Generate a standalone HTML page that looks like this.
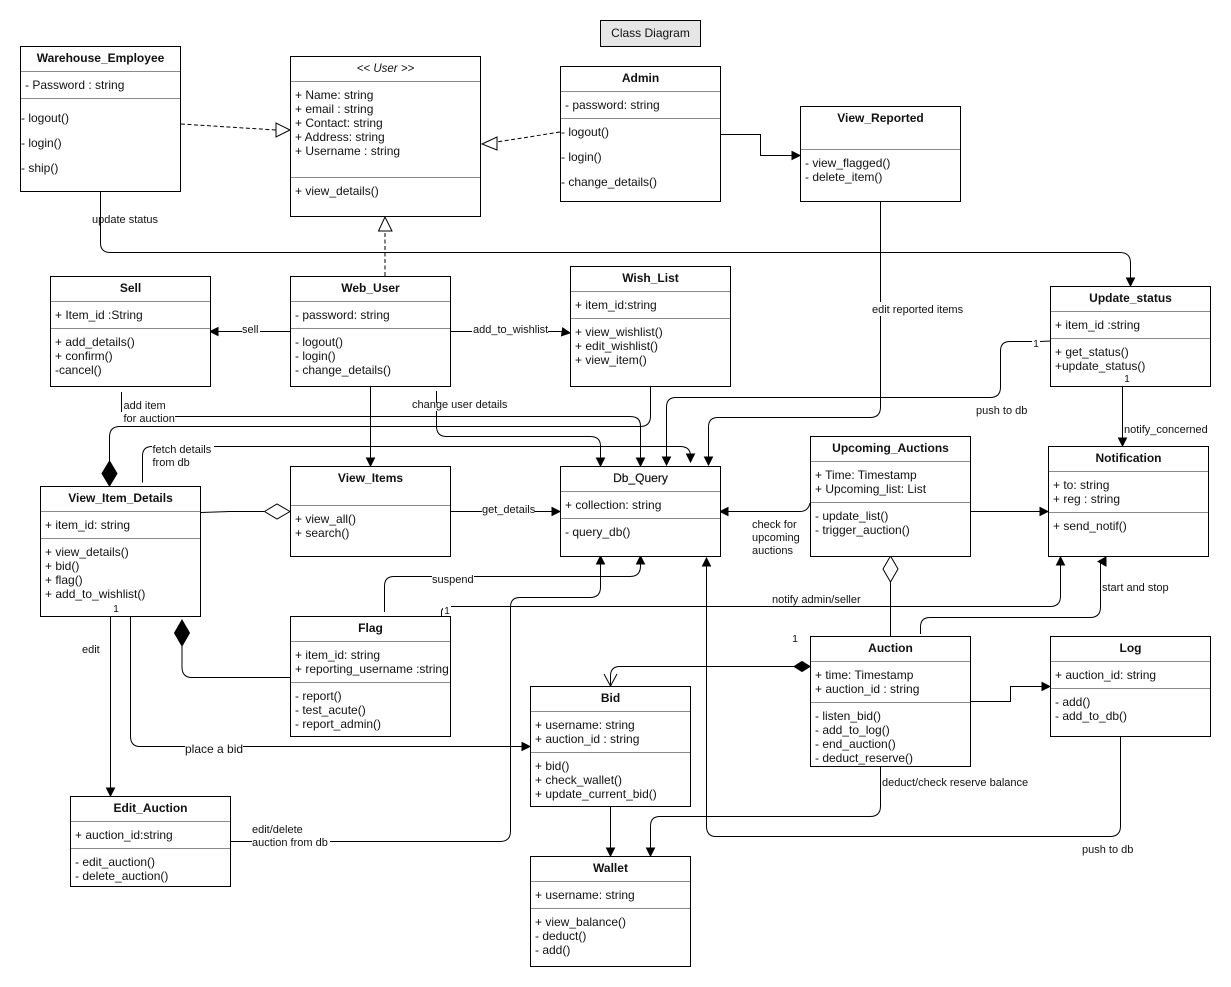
<!DOCTYPE html>
<html><head><meta charset="utf-8"><style>
html,body{margin:0;padding:0;background:#fff}
svg{display:block}
text{font-family:"Liberation Sans",Arial,sans-serif;font-size:12px;fill:#111}
.t{font-weight:bold;text-anchor:middle}
.l{font-size:11px}
.c{font-size:10.5px;text-anchor:middle}
.b{fill:#fff;stroke:#000;stroke-width:1}
.d{stroke:#8a8a8a;stroke-width:1;fill:none}
.e{fill:none;stroke:#000;stroke-width:1}
.m{fill:#fff;stroke:none}
</style></head><body>
<svg width="1231" height="987" viewBox="0 0 1231 987" xmlns="http://www.w3.org/2000/svg">
<defs>
<marker id="a" markerUnits="userSpaceOnUse" markerWidth="12" markerHeight="12" refX="10" refY="6" orient="auto"><path d="M2 2L10 6L2 10Z" fill="#000" stroke="#000" stroke-width="1"/></marker>
</defs>
<rect width="1231" height="987" fill="#fff"/>

<!-- connectors -->
<g class="e">
<path d="M181 124L276 130" stroke-dasharray="4 2.500"/>
<path d="M276 123V137L290 130Z" style="stroke:#000;fill:#fff"/>
<path d="M560 132L497 142" stroke-dasharray="4 2.500"/>
<path d="M497 137V150L482 144Z" style="fill:#fff"/>
<path d="M385 276L385 232" stroke-dasharray="4 2.500"/>
<path d="M378.500 231H392L385 217Z" style="fill:#fff"/>
<path d="M720 134.500H760.500V155.500H800" marker-end="url(#a)"/>
<path d="M100.500 191V243Q100.500 252.500 110.500 252.500H1120Q1130.500 252.500 1130.500 263V286" marker-end="url(#a)"/>
<path d="M290 331.500H210" marker-end="url(#a)"/>
<path d="M450 331.500H560L570 333" marker-end="url(#a)"/>
<path d="M370.500 386V466" marker-end="url(#a)"/>
<path d="M436.500 391V403"/>
<path d="M436.500 403V426Q436.500 436.500 446.500 436.500H590Q600.500 436.500 600.500 446V466" marker-end="url(#a)"/>
<path d="M121.500 392V412"/>
<path d="M175 416.500H630Q640.500 416.500 640.500 426V466" marker-end="url(#a)"/>
<path d="M650.500 386V416Q650.500 426.500 640 426.500H120Q109.500 426.500 109.500 437V462"/>
<path d="M109.500 461L117 473.500L109.500 486L102 473.500Z" style="fill:#000"/>
<path d="M142 482H142.500V456Q142.500 446.500 152 446.500"/>
<path d="M214 446.500H680Q690.500 446.500 690.500 456V462" marker-end="url(#a)"/>
<path d="M880.500 201V407Q880.500 417.500 870 417.500H718Q708.500 417.500 708.500 427V465" marker-end="url(#a)"/>
<path d="M1050 341L1040 341.500H1010Q1000.500 341.500 1000.500 351V387Q1000.500 397.500 990 397.500H676Q666.500 397.500 666.500 407V465" marker-end="url(#a)"/>
<path d="M810 503Q808 511.500 800 511.500H720" marker-end="url(#a)"/>
<path d="M970 511.500H1048" marker-end="url(#a)"/>
<path d="M1122.500 386V446" marker-end="url(#a)"/>
<path d="M450 511.500H560" marker-end="url(#a)"/>
<path d="M201 512.500L230 511.500H264"/>
<path d="M264.500 511.500L277 504L290 511.500L277 519Z" style="fill:#fff"/>
<path d="M290 677.500H192Q182 677.500 182 667V646"/>
<path d="M182 620L189.500 633L182 646L174.500 633Z" style="fill:#000"/>
<path d="M384.500 612V586Q384.500 576.500 394 576.500H630Q640.500 576.500 640.500 566V556" marker-end="url(#a)"/>
<path d="M231 841.500H500Q510.500 841.500 510.500 831V607Q510.500 597.500 520 597.500H590Q600.500 597.500 600.500 587V556" marker-end="url(#a)"/>
<path d="M441.500 616V612Q441.500 606.500 450 606.500H1050Q1060.500 606.500 1060.500 596V557" marker-end="url(#a)"/>
<path d="M920.500 634V627Q920.500 617.500 930 617.500H1090Q1100.500 617.500 1100.500 607V562"/>
<path d="M1098 561.500L1106 557V566Z" style="fill:#000;stroke:#000"/>
<path d="M890.500 636V582"/>
<path d="M890.500 556L898 569L890.500 582L883 569Z" style="fill:#fff"/>
<path d="M795 666.500H620Q610.500 666.500 610.500 676V686"/>
<path d="M604 674L610.500 686L617 674"/>
<path d="M794 666.500L802 661.500L810 666.500L802 671.500Z" style="fill:#000"/>
<path d="M970 701.500H1010.500V686.500H1050" marker-end="url(#a)"/>
<path d="M110.500 616V796" marker-end="url(#a)"/>
<path d="M130.500 616V736Q130.500 746.500 140 746.500H530" marker-end="url(#a)"/>
<path d="M610.500 806V856" marker-end="url(#a)"/>
<path d="M880.500 766V806Q880.500 816.500 870 816.500H660Q650.500 816.500 650.500 826V856" marker-end="url(#a)"/>
<path d="M1120.500 736V826Q1120.500 836.500 1110 836.500H716Q706.500 836.500 706.500 826V558" marker-end="url(#a)"/>
</g>

<!-- title -->
<rect x="600.500" y="20.500" width="100" height="26" fill="#e6e6e6" stroke="#000"/>
<text x="650.500" y="37" text-anchor="middle">Class Diagram</text>

<!-- Warehouse_Employee -->
<rect class="b" x="20.500" y="46.500" width="160" height="145"/>
<path class="d" d="M21 71.500H180M21 98.500H180"/>
<text class="t" x="100.500" y="62">Warehouse_Employee</text>
<text x="25" y="89">- Password : string</text>
<text x="21" y="122">- logout()</text><text x="21" y="147">- login()</text><text x="21" y="172">- ship()</text>

<!-- User -->
<rect class="b" x="290.500" y="56.500" width="190" height="160"/>
<path class="d" d="M291 81.500H480M291 177.500H480"/>
<text x="385.500" y="72" text-anchor="middle" font-style="italic" style="font-size:11.500px">&lt;&lt; User &gt;&gt;</text>
<text x="295" y="99">+ Name: string</text><text x="295" y="113">+ email : string</text><text x="295" y="127">+ Contact: string</text><text x="295" y="141">+ Address: string</text><text x="295" y="155">+ Username : string</text>
<text x="295" y="195">+ view_details()</text>

<!-- Admin -->
<rect class="b" x="560.500" y="66.500" width="160" height="135"/>
<path class="d" d="M561 91.500H720M561 118.500H720"/>
<text class="t" x="640.500" y="82">Admin</text>
<text x="565" y="109">- password: string</text>
<text x="561" y="136">- logout()</text><text x="561" y="161">- login()</text><text x="561" y="186">- change_details()</text>

<!-- View_Reported -->
<rect class="b" x="800.500" y="106.500" width="160" height="95"/>
<path class="d" d="M801 149.500H960"/>
<text class="t" x="880.500" y="122">View_Reported</text>
<text x="805" y="167">- view_flagged()</text><text x="805" y="181">- delete_item()</text>

<!-- Sell -->
<rect class="b" x="50.500" y="276.500" width="160" height="110"/>
<path class="d" d="M51 301.500H210M51 328.500H210"/>
<text class="t" x="130.500" y="292">Sell</text>
<text x="55" y="319">+ Item_id :String</text>
<text x="55" y="346">+ add_details()</text><text x="55" y="360">+ confirm()</text><text x="55" y="374">-cancel()</text>

<!-- Web_User -->
<rect class="b" x="290.500" y="276.500" width="160" height="110"/>
<path class="d" d="M291 301.500H450M291 328.500H450"/>
<text class="t" x="370.500" y="292">Web_User</text>
<text x="295" y="319">- password: string</text>
<text x="295" y="346">- logout()</text><text x="295" y="360">- login()</text><text x="295" y="374">- change_details()</text>

<!-- Wish_List -->
<rect class="b" x="570.500" y="266.500" width="160" height="120"/>
<path class="d" d="M571 291.500H730M571 318.500H730"/>
<text class="t" x="650.500" y="282">Wish_List</text>
<text x="575" y="309">+ item_id:string</text>
<text x="575" y="336">+ view_wishlist()</text><text x="575" y="350">+ edit_wishlist()</text><text x="575" y="364">+ view_item()</text>

<!-- Update_status -->
<rect class="b" x="1050.500" y="286.500" width="160" height="100"/>
<path class="d" d="M1051 311.500H1210M1051 338.500H1210"/>
<text class="t" x="1130.500" y="302">Update_status</text>
<text x="1055" y="329">+ item_id :string</text>
<text x="1055" y="356">+ get_status()</text><text x="1055" y="370">+update_status()</text>

<!-- Notification -->
<rect class="b" x="1048.500" y="446.500" width="160" height="110"/>
<path class="d" d="M1049 471.500H1208M1049 512.500H1208"/>
<text class="t" x="1128.500" y="462">Notification</text>
<text x="1053" y="489">+ to: string</text><text x="1053" y="503">+ reg : string</text>
<text x="1053" y="530">+ send_notif()</text>

<!-- Upcoming_Auctions -->
<rect class="b" x="810.500" y="436.500" width="160" height="120"/>
<path class="d" d="M811 461.500H970M811 502.500H970"/>
<text class="t" x="890.500" y="452">Upcoming_Auctions</text>
<text x="815" y="479">+ Time: Timestamp</text><text x="815" y="493">+ Upcoming_list: List</text>
<text x="815" y="520">-  update_list()</text><text x="815" y="534">- trigger_auction()</text>

<!-- Db_Query -->
<rect class="b" x="560.500" y="466.500" width="160" height="90"/>
<path class="d" d="M561 491.500H720M561 518.500H720"/>
<text class="t" x="640.500" y="482" style="font-weight:normal;stroke:#111;stroke-width:.2">Db_Query</text>
<text x="565" y="509">+ collection: string</text>
<text x="565" y="536">- query_db()</text>

<!-- View_Items -->
<rect class="b" x="290.500" y="466.500" width="160" height="90"/>
<path class="d" d="M291 505.500H450"/>
<text class="t" x="370.500" y="482">View_Items</text>
<text x="295" y="523">+ view_all()</text><text x="295" y="537">+ search()</text>

<!-- View_Item_Details -->
<rect class="b" x="40.500" y="486.500" width="160" height="130"/>
<path class="d" d="M41 511.500H200M41 538.500H200"/>
<text class="t" x="120.500" y="502">View_Item_Details</text>
<text x="45" y="529">+ item_id: string</text>
<text x="45" y="556">+ view_details()</text><text x="45" y="570">+ bid()</text><text x="45" y="584">+ flag()</text><text x="45" y="598">+ add_to_wishlist()</text>

<!-- Flag -->
<rect class="b" x="290.500" y="616.500" width="160" height="120"/>
<path class="d" d="M291 641.500H450M291 682.500H450"/>
<text class="t" x="370.500" y="632">Flag</text>
<text x="295" y="659">+ item_id: string</text><text x="295" y="673">+ reporting_username :string</text>
<text x="295" y="700">- report()</text><text x="295" y="714">- test_acute()</text><text x="295" y="728">- report_admin()</text>

<!-- Auction -->
<rect class="b" x="810.500" y="636.500" width="160" height="130"/>
<path class="d" d="M811 661.500H970M811 702.500H970"/>
<text class="t" x="890.500" y="652">Auction</text>
<text x="815" y="679">+ time: Timestamp</text><text x="815" y="693">+ auction_id : string</text>
<text x="815" y="720">- listen_bid()</text><text x="815" y="734">- add_to_log()</text><text x="815" y="748">- end_auction()</text><text x="815" y="762">- deduct_reserve()</text>

<!-- Log -->
<rect class="b" x="1050.500" y="636.500" width="160" height="100"/>
<path class="d" d="M1051 661.500H1210M1051 688.500H1210"/>
<text class="t" x="1130.500" y="652">Log</text>
<text x="1055" y="679">+ auction_id: string</text>
<text x="1055" y="706">- add()</text><text x="1055" y="720">- add_to_db()</text>

<!-- Bid -->
<rect class="b" x="530.500" y="686.500" width="160" height="120"/>
<path class="d" d="M531 711.500H690M531 752.500H690"/>
<text class="t" x="610.500" y="702">Bid</text>
<text x="535" y="729">+ username: string</text><text x="535" y="743">+ auction_id : string</text>
<text x="535" y="770">+ bid()</text><text x="535" y="784">+ check_wallet()</text><text x="535" y="798">+ update_current_bid()</text>

<!-- Edit_Auction -->
<rect class="b" x="70.500" y="796.500" width="160" height="90"/>
<path class="d" d="M71 821.500H230M71 848.500H230"/>
<text class="t" x="150.500" y="812">Edit_Auction</text>
<text x="75" y="839">+ auction_id:string</text>
<text x="75" y="866">- edit_auction()</text><text x="75" y="880">- delete_auction()</text>

<!-- Wallet -->
<rect class="b" x="530.500" y="856.500" width="160" height="110"/>
<path class="d" d="M531 881.500H690M531 908.500H690"/>
<text class="t" x="610.500" y="872">Wallet</text>
<text x="535" y="899">+ username: string</text>
<text x="535" y="926">+ view_balance()</text><text x="535" y="940">- deduct()</text><text x="535" y="954">- add()</text>

<!-- edge labels -->
<g>
<rect class="m" x="92" y="213" width="66" height="13"/><text class="l" x="92" y="223">update status</text>
<path class="e" d="M100.500 213V226"/>
<rect class="m" x="242" y="324" width="18" height="13"/><text class="l" x="242" y="333">sell</text>
<rect class="m" x="472" y="325" width="76" height="13"/><text class="l" x="473" y="333">add_to_wishlist</text>
<rect class="m" x="412" y="398" width="96" height="13"/><text class="l" x="412" y="408">change user details</text>
<path class="e" d="M436.500 398V403"/>
<text class="l" x="123.500" y="409">add item</text><text class="l" x="123.500" y="422">for auction</text>
<text class="l" x="152.500" y="453">fetch details</text><text class="l" x="152.500" y="466">from db</text>
<rect class="m" x="871" y="302" width="92" height="14"/><text class="l" x="872" y="313">edit reported items</text>
<rect class="m" x="1032" y="335" width="8" height="12"/><text class="c" x="1036" y="347" style="font-size:10px">1</text>
<text class="l" x="976" y="414">push to db</text>
<text class="c" x="1127" y="382" style="font-size:10px">1</text>
<text class="l" x="1124" y="433">notify_concerned</text>
<rect class="m" x="482" y="504" width="53" height="13"/><text class="l" x="482" y="513">get_details</text>
<text class="l" x="752" y="528">check for</text><text class="l" x="752" y="541">upcoming</text><text class="l" x="752" y="554">auctions</text>
<text class="c" x="116" y="612" style="font-size:10px">1</text>
<text class="l" x="82" y="653">edit</text>
<rect class="m" x="432" y="571" width="42" height="13"/><text class="l" x="432" y="583">suspend</text>
<rect class="m" x="443" y="603" width="8" height="9"/><text class="c" x="447" y="614" style="font-size:10px">1</text>
<rect class="m" x="771" y="595" width="90" height="11"/><text class="l" x="772" y="603">notify admin/seller</text>
<text class="l" x="1102" y="591">start and stop</text>
<text class="c" x="795" y="642" style="font-size:10.500px">1</text>
<rect class="m" x="185" y="741" width="58" height="13"/><text class="l" x="185" y="753" style="font-size:12px">place a bid</text>
<rect class="m" x="252" y="824" width="78" height="26"/><text class="l" x="252" y="833">edit/delete</text><text class="l" x="252" y="846">auction from db</text>
<text class="l" x="882" y="786">deduct/check reserve balance</text>
<text class="l" x="1082" y="853">push to db</text>
</g>
</svg>
</body></html>
